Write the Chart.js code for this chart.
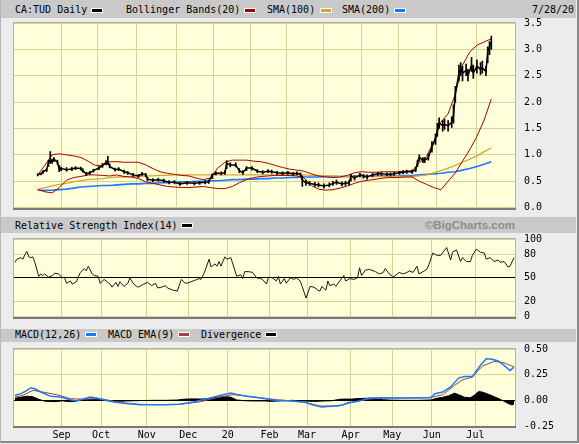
<!DOCTYPE html>
<html>
<head>
<meta charset="utf-8">
<script src="https://cdn.jsdelivr.net/npm/chart.js@4.4.1/dist/chart.umd.min.js"></script>
<style>
  body { margin: 0; width: 579px; height: 444px; overflow: hidden; position: relative;
         background: #ececec; font-family: "DejaVu Sans Mono", monospace; font-size: 10px; color: #000; }
  .frame { position: absolute; left: 0; top: 0; width: 576px; height: 441px;
           border-right: 2px solid #8a8a8a; border-bottom: 2px solid #8a8a8a; border-left: 1px solid #b8b8b8; }
  .strip { position: absolute; left: 1px; width: 575px; background: #c9c9c9; }
  .t { position: absolute; white-space: pre; line-height: 12px; }
  .sw { position: absolute; width: 10px; height: 3px; border: 1px solid #fff; }
  canvas { position: absolute; left: 0; }
</style>
</head>
<body>
<div class="frame"></div>

<div class="strip" style="top:0;height:18px"></div>
<span class="t" style="left:15px;top:4px">CA:TUD Daily</span>
<span class="sw" style="left:91px;top:8px;background:#000"></span>
<span class="t" style="left:126px;top:4px">Bollinger Bands(20)</span>
<span class="sw" style="left:244px;top:8px;background:#a00000"></span>
<span class="t" style="left:267px;top:4px">SMA(100)</span>
<span class="sw" style="left:320px;top:8px;background:#d8a535"></span>
<span class="t" style="left:342px;top:4px">SMA(200)</span>
<span class="sw" style="left:394px;top:8px;background:#1e78ff"></span>
<span class="t" style="left:532px;top:4px">7/28/20</span>

<div class="strip" style="top:217px;height:16px"></div>
<span class="t" style="left:15px;top:220px">Relative Strength Index(14)</span>
<span class="sw" style="left:181px;top:223px;background:#000"></span>
<span class="t" style="right:64px;top:219px;font-family:'Liberation Sans',Arial,sans-serif;font-weight:bold;font-size:11.5px;color:#8c8c8c;line-height:13px">©BigCharts.com</span>

<div class="strip" style="top:329px;height:13px"></div>
<span class="t" style="left:15px;top:329px">MACD(12,26)</span>
<span class="sw" style="left:85px;top:332px;background:#1e78ff"></span>
<span class="t" style="left:108px;top:329px">MACD EMA(9)</span>
<span class="sw" style="left:178px;top:332px;background:#a04040"></span>
<span class="t" style="left:201px;top:329px">Divergence</span>
<span class="sw" style="left:265px;top:332px;background:#000"></span>

<canvas id="priceChart" width="579" height="197" style="top:17px"></canvas>
<canvas id="rsiChart" width="579" height="90" style="top:233px"></canvas>
<canvas id="macdChart" width="579" height="102" style="top:342px"></canvas>

<script>
// trading-day index of the first session of each month, and the axis labels
const monthStart = [24, 44, 67, 88, 108, 129, 148, 170, 191, 211, 233];
const monthLabels = ["Sep", "Oct", "Nov", "Dec", "20", "Feb", "Mar", "Apr", "May", "Jun", "Jul"];
const lastBar = 252;

// price bars: [day, low, high, close]
const priceBars = [
  [0,.60,.64,.62],[2,.62,.66,.65],[3,.65,.70,.68],[5,.68,.74,.72],[6,.78,.90,.85],[7,.84,1.06,.90],
  [8,.84,.92,.88],[9,.87,.95,.92],[11,.82,.90,.86],[12,.68,.80,.72],[13,.70,.77,.74],[16,.69,.76,.72],
  [19,.70,.77,.73],[21,.72,.78,.75],[24,.71,.77,.74],[25,.67,.74,.70],[27,.61,.67,.64],[29,.63,.69,.66],
  [31,.67,.73,.70],[34,.72,.78,.75],[36,.76,.84,.80],[38,.81,.89,.85],[39,.82,.97,.86],[40,.75,.83,.78],
  [43,.69,.75,.72],[45,.70,.76,.73],[48,.65,.71,.68],[50,.63,.69,.66],[53,.59,.65,.62],[56,.57,.63,.60],
  [58,.61,.67,.64],[60,.59,.65,.62],[61,.51,.58,.54],[64,.49,.55,.52],[67,.50,.56,.53],[70,.48,.54,.51],
  [73,.45,.51,.48],[76,.45,.51,.48],[79,.42,.48,.45],[83,.44,.50,.47],[87,.43,.49,.46],[90,.44,.50,.47],
  [93,.45,.51,.48],[95,.46,.52,.49],[97,.55,.64,.62],[99,.62,.68,.65],[102,.62,.68,.65],[104,.63,.70,.66],
  [105,.74,.89,.84],[107,.77,.85,.81],[110,.77,.85,.81],[112,.66,.74,.70],[114,.63,.70,.66],[116,.70,.78,.75],
  [119,.71,.78,.75],[122,.66,.72,.69],[125,.64,.70,.67],[128,.66,.72,.69],[130,.65,.71,.68],[133,.63,.69,.66],
  [136,.62,.68,.65],[139,.63,.69,.66],[142,.61,.67,.64],[144,.62,.68,.65],[146,.60,.66,.63],[147,.40,.60,.52],
  [149,.42,.52,.47],[151,.42,.50,.46],[154,.40,.48,.44],[156,.39,.47,.43],[159,.37,.45,.41],[162,.39,.47,.43],
  [164,.42,.50,.46],[166,.44,.52,.48],[169,.41,.49,.45],[171,.42,.50,.46],[173,.43,.51,.47],[174,.50,.63,.60],
  [176,.52,.60,.56],[179,.58,.65,.62],[181,.56,.63,.60],[183,.54,.62,.58],[186,.58,.65,.62],[189,.61,.67,.64],
  [191,.61,.67,.64],[194,.60,.66,.63],[196,.60,.66,.63],[198,.61,.67,.64],[201,.63,.69,.66],[203,.64,.70,.67],
  [205,.65,.71,.68],[208,.65,.71,.68],[210,.68,.76,.72],[211,.78,.90,.85],[212,.88,1.00,.95],[214,.85,.95,.90],
  [215,.85,.95,.90],[217,.90,1.02,.95],[219,1.05,1.25,1.15],[221,1.20,1.40,1.30],[222,1.35,1.60,1.45],
  [223,1.50,1.70,1.60],[225,1.45,1.65,1.55],[226,1.48,1.68,1.58],[228,1.45,1.65,1.55],[230,1.52,1.72,1.62],
  [231,1.60,1.95,1.75],[232,2.00,2.30,2.15],[234,2.40,2.70,2.55],[235,2.50,2.75,2.62],[236,2.40,2.68,2.55],
  [238,2.50,2.72,2.60],[239,2.40,2.62,2.50],[241,2.58,2.85,2.70],[242,2.45,2.70,2.55],[244,2.55,2.80,2.68],
  [246,2.52,2.75,2.62],[247,2.55,2.78,2.65],[249,2.50,2.68,2.58],[250,2.75,3.05,2.95],[251,2.90,3.15,3.05],
  [252,3.00,3.25,3.15]
];

// overlays sampled every 4 sessions
const overlayDays = [0,4,8,12,16,20,24,28,32,36,40,44,48,52,56,60,64,68,72,76,80,84,88,92,96,100,104,108,
  112,116,120,124,128,132,136,140,144,148,152,156,160,164,168,172,176,180,184,188,192,196,200,204,208,212,
  216,220,224,228,232,236,240,244,248,252];
const bbUpper = [.62,.80,1.00,1.02,1.00,.98,.95,.88,.80,.80,.87,.87,.86,.86,.86,.81,.74,.68,.65,.63,.61,.60,
  .56,.53,.56,.75,.86,.90,.90,.90,.88,.87,.84,.80,.76,.73,.71,.69,.64,.60,.58,.57,.58,.61,.66,.68,.67,.67,
  .68,.68,.68,.69,.70,.85,.97,1.25,1.62,1.78,2.15,2.70,2.95,3.08,3.14,3.20];
const bbLower = [.34,.30,.28,.38,.52,.57,.59,.62,.62,.61,.60,.62,.59,.58,.55,.49,.46,.43,.40,.39,.38,.38,
  .39,.40,.38,.36,.36,.40,.47,.53,.57,.59,.60,.61,.61,.61,.60,.56,.42,.35,.33,.34,.37,.41,.46,.50,.52,.54,
  .56,.57,.57,.58,.58,.50,.44,.38,.34,.50,.66,.88,1.10,1.35,1.66,2.06];
const sma100 = [.35,.38,.41,.44,.46,.49,.51,.53,.54,.55,.57,.58,.58,.59,.59,.60,.60,.61,.61,.62,.62,.62,
  .62,.62,.62,.62,.62,.62,.62,.62,.62,.62,.62,.62,.62,.62,.62,.62,.61,.61,.60,.60,.59,.59,.59,.59,.59,.59,
  .59,.59,.59,.59,.59,.60,.62,.66,.70,.75,.80,.86,.92,.98,1.06,1.13];
const sma200 = [.33,.33,.33,.34,.35,.37,.39,.40,.41,.42,.42,.43,.44,.45,.45,.46,.46,.47,.47,.48,.49,.49,
  .50,.50,.51,.51,.52,.53,.53,.54,.54,.55,.55,.56,.56,.57,.57,.58,.58,.58,.59,.59,.59,.59,.60,.60,.60,.60,
  .60,.60,.60,.61,.61,.62,.63,.64,.65,.67,.68,.71,.74,.78,.82,.87];
const priceTicks = [0, 0.5, 1, 1.5, 2, 2.5, 3, 3.5];

// RSI(14): [day, value]
const rsiSeries = [
  [0,70],[1,74],[3,76],[4,74],[5,80],[6,84],[7,77],[8,76],[9,77],[10,70],[12,52],[13,55],[14,53],[15,55],
  [17,51],[19,53],[20,56],[22,55],[24,50],[25,51],[26,43],[28,46],[29,42],[31,45],[33,57],[35,62],[36,59],
  [37,65],[39,55],[40,53],[42,52],[43,43],[45,48],[46,46],[48,42],[49,38],[51,44],[52,39],[53,45],[55,39],
  [57,43],[58,50],[60,42],[62,38],[63,39],[65,42],[67,44],[69,40],[71,43],[72,37],[74,38],[76,40],[77,37],
  [80,34],[82,33],[84,48],[86,43],[88,44],[90,46],[93,49],[94,48],[96,59],[98,74],[99,64],[101,68],[102,65],
  [103,71],[104,65],[106,77],[107,74],[109,76],[110,68],[111,60],[112,52],[114,54],[115,49],[116,58],[118,58],
  [120,57],[122,50],[124,49],[125,48],[127,42],[128,51],[130,50],[132,46],[133,52],[134,42],[136,49],[137,43],
  [139,50],[141,48],[142,50],[144,46],[145,39],[147,24],[149,39],[151,38],[153,34],[154,33],[155,39],[157,34],
  [158,46],[159,40],[161,42],[162,39],[164,46],[166,53],[167,46],[169,49],[171,48],[173,50],[174,63],[175,53],
  [177,60],[179,61],[182,58],[184,55],[186,57],[187,62],[189,55],[191,51],[193,55],[194,57],[196,55],[198,57],
  [199,59],[201,57],[203,65],[204,55],[206,58],[208,61],[209,67],[211,82],[213,79],[215,79],[218,89],[220,73],
  [221,83],[223,86],[225,71],[226,76],[228,71],[230,71],[231,79],[233,87],[235,83],[237,82],[238,74],[240,76],
  [242,71],[244,73],[245,70],[247,71],[249,64],[250,65],[252,76]
];
const rsiTicks = [0, 20, 50, 80, 100];

// MACD(12,26), its EMA(9) and the divergence: [day, value]
const macdSeries = [
  [0,.049],[3,.065],[6,.097],[8,.123],[10,.113],[13,.081],[18,.039],[23,.032],[28,.006],[31,-.006],[35,.016],
  [38,.032],[41,.023],[45,.006],[50,-.016],[56,-.032],[63,-.042],[70,-.042],[76,-.042],[83,-.039],[90,-.016],
  [97,.016],[104,.049],[109,.071],[112,.058],[117,.039],[124,.023],[131,0],[139,-.006],[146,-.016],[151,-.049],
  [155,-.065],[161,-.055],[165,-.049],[168,-.023],[173,-.01],[179,.023],[186,.026],[191,.023],[198,.023],
  [205,.026],[210,.026],[212,.065],[216,.081],[220,.13],[224,.217],[227,.233],[231,.233],[235,.34],[238,.405],
  [241,.40],[244,.383],[247,.34],[250,.29],[252,.324]
];
const signalSeries = [
  [0,.032],[4,.049],[9,.097],[14,.081],[21,.055],[28,.016],[35,.01],[43,.016],[50,-.01],[56,-.026],[63,-.039],
  [73,-.042],[83,-.039],[93,-.016],[102,.026],[110,.055],[117,.042],[125,.023],[132,.006],[141,-.006],
  [147,-.023],[154,-.055],[163,-.055],[169,-.026],[178,.01],[186,.023],[194,.023],[205,.023],[211,.032],
  [216,.055],[222,.146],[226,.2],[231,.227],[236,.334],[242,.38],[247,.366],[252,.324]
];
const divergenceSeries = [
  [0,.02],[3,.03],[6,.04],[9,.035],[12,.01],[15,-.008],[18,-.012],[21,-.012],[24,-.005],[27,-.012],[30,-.012],
  [33,.005],[36,.012],[40,.012],[44,.003],[48,-.008],[52,-.01],[56,-.006],[60,-.004],[64,-.002],[70,0],[76,0],
  [82,.003],[86,.012],[90,.014],[94,.012],[98,.018],[102,.03],[106,.035],[109,.03],[112,.004],[116,-.004],
  [120,-.006],[126,-.006],[130,-.01],[134,-.005],[140,0],[144,-.004],[148,-.008],[152,-.01],[156,-.006],
  [160,-.004],[164,.01],[166,.012],[170,.012],[174,.018],[178,.02],[182,.014],[186,.006],[190,.002],[196,0],
  [204,0],[210,.004],[213,.02],[216,.03],[219,.045],[222,.07],[224,.055],[227,.03],[230,.025],[232,.05],
  [234,.085],[236,.08],[239,.06],[242,.035],[245,.01],[247,-.01],[249,-.03],[251,-.045],[252,-.035]
];
const macdTicks = [-0.25, 0, 0.25, 0.5];

const gridColor = "#d2d29a";
const tickFont = { family: "DejaVu Sans Mono", size: 10 };

// dithered pale-yellow plot background
const tile = document.createElement("canvas");
tile.width = 2; tile.height = 2;
const tctx = tile.getContext("2d");
tctx.fillStyle = "#ffffc8"; tctx.fillRect(0, 0, 2, 2);
tctx.fillStyle = "#ffffec"; tctx.fillRect(0, 0, 1, 1); tctx.fillRect(1, 1, 1, 1);

const plotFrame = {
  id: "plotFrame",
  beforeDraw(chart) {
    const { ctx, chartArea: a } = chart;
    ctx.save();
    ctx.fillStyle = ctx.createPattern(tile, "repeat");
    ctx.fillRect(a.left, a.top, a.width, a.height);
    ctx.restore();
  },
  afterDraw(chart) {
    const { ctx, chartArea: a } = chart;
    ctx.save();
    ctx.strokeStyle = "#b0b0b0";
    ctx.lineWidth = 1;
    ctx.strokeRect(Math.round(a.left) - 0.5, Math.round(a.top) - 0.5, Math.round(a.width) + 1, Math.round(a.height) + 1);
    ctx.fillStyle = "#7a7a7a";
    ctx.fillRect(Math.round(a.left) - 1, Math.round(a.bottom), Math.round(a.width) + 2, 2);
    ctx.restore();
  }
};

// right-side value labels, placed with the y scale of each panel
function valueLabels(values, format) {
  return {
    id: "valueLabels",
    afterDraw(chart) {
      const { ctx, chartArea: a } = chart;
      const scale = chart.scales.y;
      ctx.save();
      ctx.font = '10px "DejaVu Sans Mono"';
      ctx.fillStyle = "#000";
      ctx.textAlign = "left";
      ctx.textBaseline = "middle";
      values.forEach(v => ctx.fillText(format(v), a.right + 9, scale.getPixelForValue(v)));
      ctx.restore();
    }
  };
}

function toPoints(series) {
  return series.map(p => ({ x: p[0], y: p[1] }));
}
function overlay(values) {
  return overlayDays.map((d, i) => ({ x: d, y: values[i] }));
}

function xAxis(showLabels) {
  return {
    type: "linear",
    min: -0.5,
    max: lastBar + 0.5,
    border: { display: false },
    grid: { color: gridColor, drawTicks: false },
    afterBuildTicks: s => { s.ticks = monthStart.map(d => ({ value: d - 0.5 })); },
    afterFit: s => { s.height = showLabels ? 18 : 0; },
    ticks: {
      display: showLabels, autoSkip: false, maxRotation: 0, padding: 3,
      color: "#000", font: tickFont,
      callback: (v, i) => monthLabels[i]
    }
  };
}

function yAxis(min, max, values, gridLineColor) {
  return {
    position: "right",
    min: min,
    max: max,
    border: { display: false },
    grid: { color: gridLineColor, drawTicks: false },
    afterBuildTicks: s => { s.ticks = values.map(v => ({ value: v })); },
    afterFit: s => { s.width = 64; },
    ticks: { display: false }
  };
}

function baseOptions(padding, scales) {
  return {
    responsive: false,
    animation: false,
    events: [],
    layout: { padding: padding, autoPadding: false },
    plugins: { legend: { display: false }, tooltip: { enabled: false } },
    scales: scales
  };
}

const thinLine = { pointRadius: 0, tension: 0, fill: false };

new Chart(document.getElementById("priceChart"), {
  type: "line",
  data: {
    datasets: [
      { type: "bar", data: priceBars.map(b => ({ x: b[0], y: [b[1], b[2]] })),
        backgroundColor: "#000", barThickness: 1, grouped: false, order: 0 },
      Object.assign({ data: priceBars.map(b => ({ x: b[0], y: b[3] })),
        borderColor: "#000", borderWidth: 1.5, order: 0 }, thinLine),
      Object.assign({ data: overlay(bbUpper), borderColor: "#a80000", borderWidth: 1, order: 2 }, thinLine),
      Object.assign({ data: overlay(bbLower), borderColor: "#a80000", borderWidth: 1, order: 2 }, thinLine),
      Object.assign({ data: overlay(sma100), borderColor: "#d8a535", borderWidth: 1.3, order: 3 }, thinLine),
      Object.assign({ data: overlay(sma200), borderColor: "#1e78ff", borderWidth: 1.6, order: 3 }, thinLine)
    ]
  },
  options: baseOptions({ left: 14, right: 0, top: 6, bottom: 6.4 }, {
    x: xAxis(false),
    y: yAxis(0, 3.5, priceTicks, gridColor)
  }),
  plugins: [plotFrame, valueLabels(priceTicks, v => v.toFixed(1))]
});

new Chart(document.getElementById("rsiChart"), {
  type: "line",
  data: {
    datasets: [
      Object.assign({ data: toPoints(rsiSeries), borderColor: "#1a1a1a", borderWidth: 1 }, thinLine)
    ]
  },
  options: baseOptions({ left: 14, right: 0, top: 6, bottom: 6.3 }, {
    x: xAxis(false),
    y: yAxis(0, 100, rsiTicks, c => (c.tick && c.tick.value === 50) ? "#000" : gridColor)
  }),
  plugins: [plotFrame, valueLabels(rsiTicks, v => String(v))]
});

new Chart(document.getElementById("macdChart"), {
  type: "line",
  data: {
    datasets: [
      { data: toPoints(divergenceSeries), borderColor: "#000", backgroundColor: "#000",
        borderWidth: 1, pointRadius: 0, tension: 0, fill: "origin", order: 3 },
      Object.assign({ data: toPoints(signalSeries), borderColor: "#a04040", borderWidth: 1, order: 2 }, thinLine),
      Object.assign({ data: toPoints(macdSeries), borderColor: "#1e78ff", borderWidth: 1.5, order: 1 }, thinLine)
    ]
  },
  options: baseOptions({ left: 14, right: 0, top: 7, bottom: 0 }, {
    x: xAxis(true),
    y: yAxis(-0.25, 0.5, macdTicks, c => (c.tick && Math.abs(c.tick.value) < 1e-9) ? "#000" : gridColor)
  }),
  plugins: [plotFrame, valueLabels(macdTicks, v => v.toFixed(2))]
});
</script>
</body>
</html>
